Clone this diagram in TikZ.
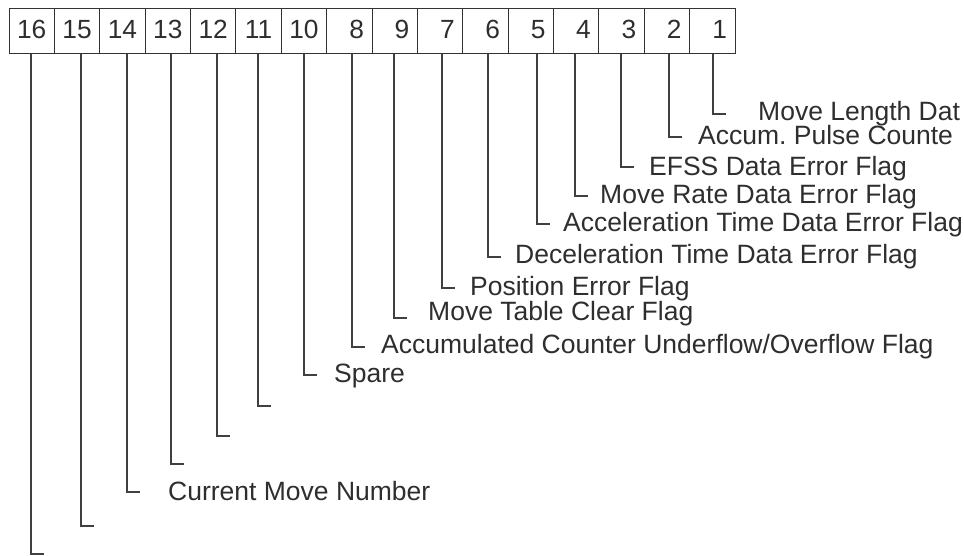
\documentclass[tikz,border=0pt]{standalone}
\usepackage{fontspec}
\setmainfont{Liberation Sans}
\frenchspacing
\begin{document}
\begin{tikzpicture}[x=1pt,y=-1pt,
  cell/.style={draw=black!80, line width=1pt, minimum width=45.375pt, minimum height=45pt,
    inner sep=0pt, text height=18.8pt, text depth=3.5pt,
    font=\fontsize{26.3}{30}\selectfont, text=black!82},
  lbl/.style={anchor=base west, inner sep=0pt, font=\fontsize{26.5}{30}\selectfont, text=black!82},
  conn/.style={draw=black!75, line width=1.2pt}]
\useasboundingbox (0,0) rectangle (964,555);
\clip (0,0) rectangle (964,555);
% register cells
\foreach \n [count=\i] in {16,15,14,13,12,11,10,8,9,7,6,5,4,3,2,1} {
  \node[cell] (c\n) at ({9+45.375*(\i-0.5)},30.5) {\ifnum\n<10 \phantom{0}\fi\n};
}
% hook corners
\coordinate (k1) at (713,114);
\coordinate (k2) at (669,137);
\coordinate (k3) at (621,167);
\coordinate (k4) at (575,196);
\coordinate (k5) at (537,224);
\coordinate (k6) at (488,257);
\coordinate (k7) at (442,288);
\coordinate (k9) at (394,318);
\coordinate (k8) at (352,347);
\coordinate (k10) at (304,375);
\coordinate (k11) at (258,406);
\coordinate (k12) at (217,436);
\coordinate (k13) at (171,464);
\coordinate (k14) at (127,492);
\coordinate (k15) at (81,526);
\coordinate (k16) at (31,554);
\foreach \n in {1,...,16} {
  \draw[conn] (c\n.south -| k\n) -- (k\n) -- ++(13,0);
}
% labels
\node[lbl] (l1) at (758,120) {Move Length Dat};
\node[lbl] (l2) at (698,144) {Accum. Pulse Counte};
\node[lbl] (l3) at (649,175) {EFSS Data Error Flag};
\node[lbl] (l4) at (600,203) {Move Rate Data Error Flag};
\node[lbl] (l5) at (563,231) {Acceleration Time Data Error Flag};
\node[lbl] (l6) at (515,263) {Deceleration Time Data Error Flag};
\node[lbl] (l7) at (470,295) {Position Error Flag};
\node[lbl] (l9) at (428,320) {Move Table Clear Flag};
\node[lbl] (l8) at (381,353) {Accumulated Counter Underflow/Overflow Flag};
\node[lbl] (l10) at (334,382) {Spare};
\node[lbl] (l14) at (168,500) {Current Move Number};
\end{tikzpicture}
\end{document}
